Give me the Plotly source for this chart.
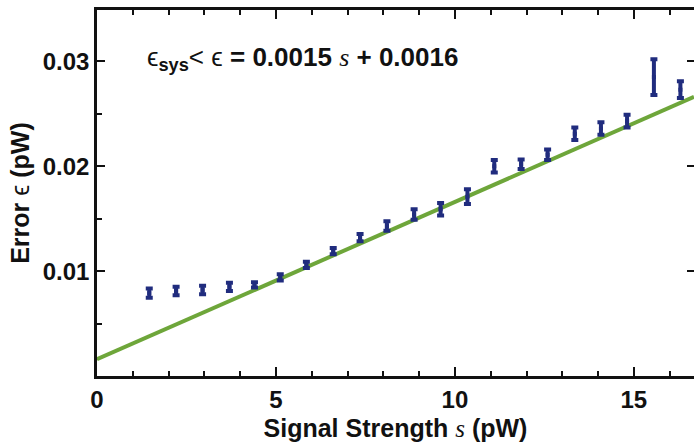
import plotly.graph_objects as go

# Measured error versus signal strength
signal_pw = [1.46, 2.21, 2.95, 3.70, 4.40, 5.12, 5.85, 6.60, 7.35, 8.10, 8.86,
             9.60, 10.35, 11.10, 11.85, 12.59, 13.35, 14.08, 14.81, 15.56, 16.30]
error_pw = [0.0079, 0.0081, 0.0082, 0.0085, 0.0087, 0.0094, 0.0106, 0.0119,
            0.0132, 0.0143, 0.0154, 0.0159, 0.0171, 0.0200, 0.0202, 0.0211,
            0.0231, 0.0236, 0.0243, 0.0285, 0.0273]
error_unc = [0.00045, 0.0004, 0.0004, 0.0004, 0.00025, 0.0003, 0.0003, 0.0003,
             0.00035, 0.00045, 0.0005, 0.0006, 0.0007, 0.0006, 0.00045, 0.0005,
             0.0006, 0.0006, 0.0006, 0.0017, 0.0008]

# Linear bound: eps = slope * s + intercept
fit_slope = 0.0015
fit_intercept = 0.0016

x_range = [0, 16.68]
y_range = [0, 0.0349]
y_tick_vals = [0.01, 0.02, 0.03]
y_tick_text = ["0.01", "0.02", "0.03"]

NAVY = "#202c7e"
GREEN = "#6ea63a"
INK = "#111111"
SANS = "Liberation Sans, Arial, sans-serif"
SERIF = "Liberation Serif, Times New Roman, serif"

fit_x = [x_range[0], x_range[1]]
fit_y = [fit_slope * v + fit_intercept for v in fit_x]

fig = go.Figure()
fig.add_trace(go.Scatter(
    x=fit_x, y=fit_y, mode="lines",
    line=dict(color=GREEN, width=4), hoverinfo="skip", showlegend=False,
))
fig.add_trace(go.Scatter(
    x=signal_pw, y=error_pw, mode="markers",
    marker=dict(color=NAVY, size=4, symbol="square"),
    error_y=dict(type="data", array=error_unc, visible=True,
                 color=NAVY, thickness=4, width=3.5),
    showlegend=False,
))
# right-hand ticks of the frame (no frame line drawn there)
fig.add_trace(go.Scatter(x=[0], y=[0], yaxis="y2", mode="markers",
                         marker=dict(opacity=0), hoverinfo="skip",
                         showlegend=False))

fig.add_annotation(
    x=1.34, y=0.0303, xref="x", yref="y", xanchor="left", yanchor="middle",
    showarrow=False,
    text=("<span style='font-weight:normal'>ϵ</span><b><sub>sys</sub></b>"
          "<span style='font-weight:normal'>&lt; ϵ</span> = 0.0015 "
          f"<span style='font-family:{SERIF};font-style:italic;font-weight:normal'>s</span>"
          " + 0.0016"),
    font=dict(family=SANS, size=26, color=INK, weight="bold"),
)

fig.update_layout(
    width=694, height=448,
    margin=dict(l=97, r=0, t=10, b=72),
    paper_bgcolor="white", plot_bgcolor="white",
    xaxis=dict(
        range=x_range, showgrid=False, zeroline=False,
        showline=True, linecolor=INK, linewidth=2.5, mirror="ticks",
        ticks="inside", ticklen=9, tickwidth=2, tickcolor=INK,
        tick0=0, dtick=5,
        minor=dict(ticks="inside", dtick=1, ticklen=5, tickwidth=2, tickcolor=INK),
        tickfont=dict(family=SANS, size=24, color=INK, weight="bold"),
        title=dict(
            text=f"Signal Strength <span style='font-family:{SERIF};font-style:italic;font-weight:normal'>s</span> (pW)",
            font=dict(family=SANS, size=25, color=INK, weight="bold"),
            standoff=8,
        ),
    ),
    yaxis=dict(
        range=y_range, showgrid=False, zeroline=False,
        showline=True, linecolor=INK, linewidth=2.5,
        ticks="inside", ticklen=8, tickwidth=2, tickcolor=INK,
        tickvals=y_tick_vals, ticktext=y_tick_text,
        minor=dict(ticks="inside", tickvals=[0.005, 0.015, 0.025],
                   ticklen=5, tickwidth=2, tickcolor=INK),
        tickfont=dict(family=SANS, size=24, color=INK, weight="bold"),
        title=dict(
            text="Error <span style='font-weight:normal'>ϵ</span> (pW)",
            font=dict(family=SANS, size=25, color=INK, weight="bold"),
            standoff=6,
        ),
    ),
    yaxis2=dict(
        overlaying="y", side="right", range=y_range, showgrid=False,
        zeroline=False, showline=False, showticklabels=False,
        ticks="inside", ticklen=7, tickwidth=2, tickcolor=INK,
        tickvals=y_tick_vals,
    ),
)

fig.write_html("out.html")
